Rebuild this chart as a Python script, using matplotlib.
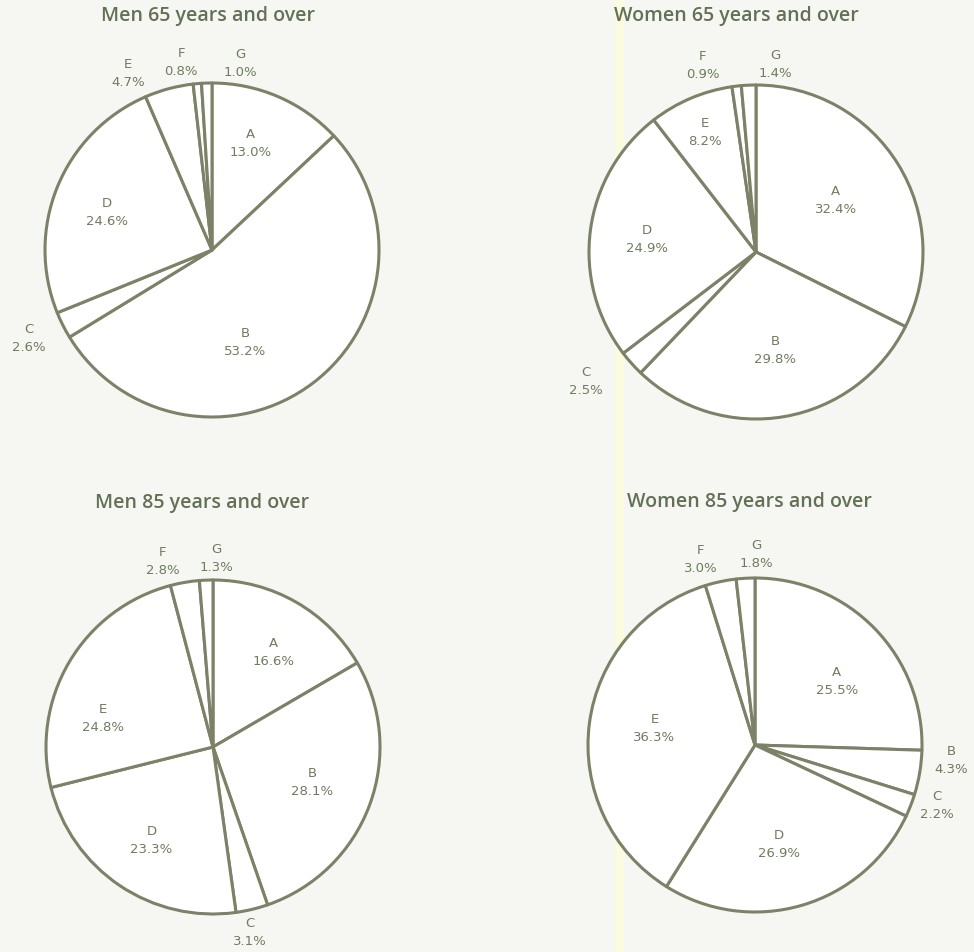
import numpy as np
import matplotlib.pyplot as plt
from matplotlib.patches import Rectangle

# Datos: porcentajes por categoria (orden horario desde las 12)
categorias = ["A", "B", "C", "D", "E", "F", "G"]
hombres_65 = [13.0, 53.2, 2.6, 24.6, 4.7, 0.8, 1.0]
mujeres_65 = [32.4, 29.8, 2.5, 24.9, 8.2, 0.9, 1.4]
hombres_85 = [16.6, 28.1, 3.1, 23.3, 24.8, 2.8, 1.3]
mujeres_85 = [25.5, 4.3, 2.2, 26.9, 36.3, 3.0, 1.8]

titulos = ["Men 65 years and over", "Women 65 years and over",
           "Men 85 years and over", "Women 85 years and over"]

# Posicion de cada pastel (pixeles) y del titulo
centros = [(212, 250), (756, 252), (213, 747), (755, 745)]
radio = 167
titulo_xy = [(208, 16), (736, 16), (202, 503), (749, 502)]

# Ajuste de las etiquetas: distancia (en radios) y giro (grados) respecto al angulo medio
lab_r = [
    [0.68, 0.59, 1.22, 0.67, 1.17, 1.14, 1.13],
    [0.57, 0.60, 1.28, 0.66, 0.78, 1.16, 1.13],
    [0.67, 0.63, 1.13, 0.67, 0.68, 1.15, 1.13],
    [0.62, 1.18, 1.15, 0.61, 0.61, 1.16, 1.14],
]
lab_da = [
    [-3.6, 17.7, 0.9, -2.7, -10.6, -4.3, 10.5],
    [-1.2, -1.3, 4.6, -0.7, 0.1, -9.4, 8.3],
    [2.8, -0.7, 2.3, -0.7, -16.2, -5.5, 3.5],
    [6.2, -5.1, -2.9, 3.0, 2.1, -4.4, 3.8],
]

W, H = 974, 952
linea = "#7b8268"
texto = "#6f7c5e"
fondo = "#f6f7f2"

fig = plt.figure(figsize=(W / 100, H / 100), dpi=100, facecolor=fondo)
ax = fig.add_axes([0, 0, 1, 1])

# franja amarilla del escaneo
ax.add_patch(Rectangle((615, 0), 9, H, color="#fbfbe0", zorder=0, lw=0))

datos = [hombres_65, mujeres_65, hombres_85, mujeres_85]
for i, valores in enumerate(datos):
    cx, cy = centros[i]
    cy = H - cy
    ax.pie(valores, center=(cx, cy), radius=radio, startangle=90,
           counterclock=False, colors=["white"] * len(valores),
           wedgeprops=dict(edgecolor=linea, linewidth=2.2, joinstyle="round"),
           frame=True)
    total = sum(valores)
    acum = 0
    for j, v in enumerate(valores):
        medio = (acum + v / 2) / total * 360 + lab_da[i][j]
        acum += v
        ang = np.radians(medio)
        x = cx + lab_r[i][j] * radio * np.sin(ang)
        y = cy + lab_r[i][j] * radio * np.cos(ang)
        ax.text(x, y, categorias[j] + "\n" + f"{v:.1f}%", ha="center", va="center",
                fontsize=9.5, color=texto, family="DejaVu Sans", linespacing=1.5)
    tx, ty = titulo_xy[i]
    ax.text(tx, H - ty, titulos[i], ha="center", va="center", fontsize=14,
            fontweight="semibold", color="#627055", family="Open Sans")

ax.set_xlim(0, W)
ax.set_ylim(0, H)
ax.set_aspect("equal")
ax.axis("off")

plt.savefig("out.png", dpi=100, facecolor=fondo)
